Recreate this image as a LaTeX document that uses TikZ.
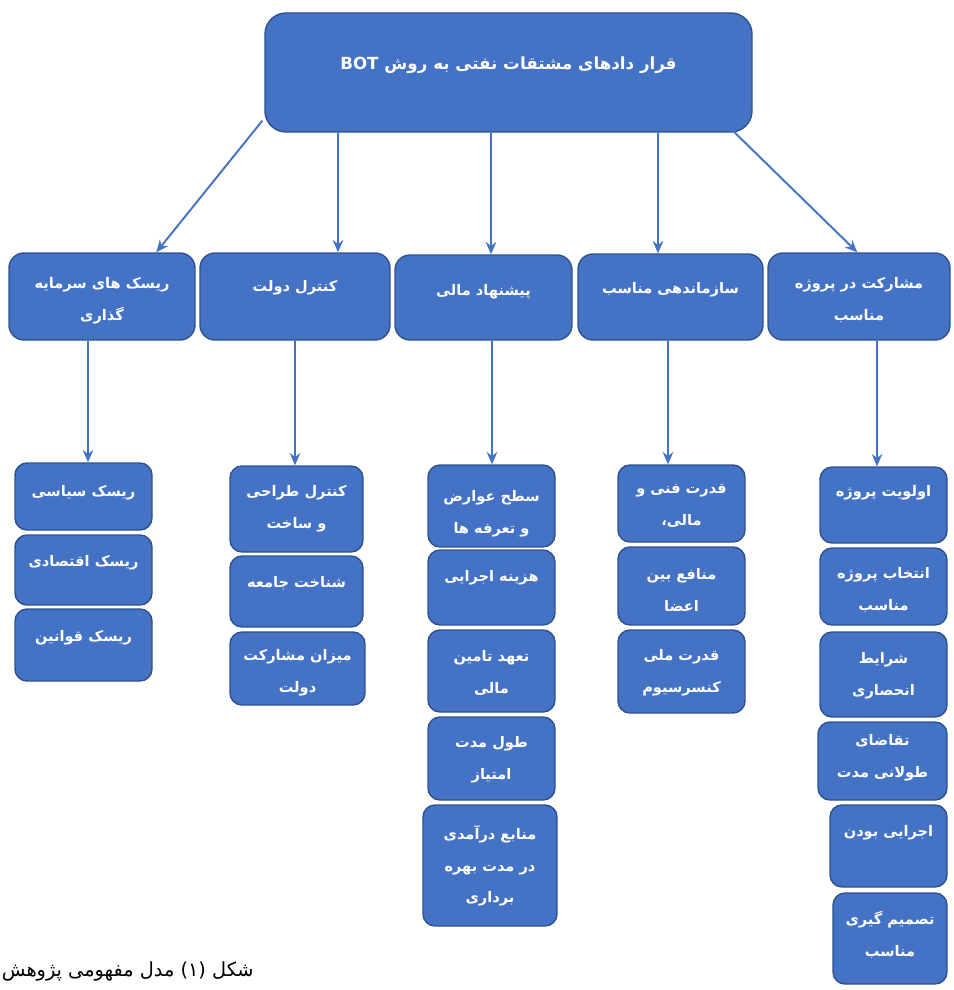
\documentclass[tikz,border=0pt]{standalone}
\usepackage{fontspec}
\TeXXeTstate=1
\newfontfamily\farsi[Script=Arabic]{DejaVu Sans}
\usetikzlibrary{arrows.meta,calc}
\definecolor{boxblue}{HTML}{4472C4}
\definecolor{boxedge}{HTML}{2F528F}
\definecolor{arrowblue}{HTML}{4472C4}
\newcommand\rl[1]{\beginR#1\endR}
% #1 style, #2 name, #3 x1, #4 y1, #5 x2, #6 y2, #7 text y, #8 text
\newcommand\bx[8]{%
  \node[boxshape,#1,minimum width={(#5-#3)*0.02cm},minimum height={(#6-#4)*0.02cm}] (#2) at ({(#3+#5)/2},{(#4+#6)/2}) {};
  \node[boxtext] (#2t) at ({(#3+#5)/2},#7) {#8};
}
\begin{document}
\begin{tikzpicture}[x=0.02cm,y=-0.02cm,
  boxshape/.style={draw=boxedge,fill=boxblue,line width=0.8pt,inner sep=0pt,rounded corners=0.24cm},
  catbox/.style={rounded corners=0.3cm},
  topbox/.style={rounded corners=0.42cm},
  boxtext/.style={text=white,font=\farsi\bfseries\fontsize{8.3}{18}\selectfont,align=center,inner sep=0pt},
  arr/.style={draw=arrowblue,line width=1.1pt,-{Stealth[length=7pt,width=6pt]}}]
\useasboundingbox (0,0) rectangle (953,990);

% top
\node[boxshape,topbox,minimum width={(752-265)*0.02cm},minimum height={(132-13)*0.02cm}] (top) at ({(265+752)/2},{(13+132)/2}) {};
\node[boxtext,font=\farsi\bfseries\fontsize{9.5}{18}\selectfont] (topt) at ({(265+752)/2},65) {\rl{قرار دادهای مشتقات نفتی به روش BOT}};

% categories
\bx{catbox}{c1}{9}{253}{195}{340}{301}{\rl{ریسک های سرمایه}\\\rl{گذاری}}
\bx{catbox}{c2}{200}{253}{390}{340}{288}{\rl{کنترل دولت}}
\bx{catbox}{c3}{395}{255}{572}{340}{292}{\rl{پیشنهاد مالی}}
\bx{catbox}{c4}{578}{254}{763}{340}{290}{\rl{سازماندهی مناسب}}
\bx{catbox}{c5}{768}{253}{950}{340}{300}{\rl{مشارکت در پروژه}\\\rl{مناسب}}

% column 1
\bx{}{s11}{15}{463}{152}{530}{493}{\rl{ریسک سیاسی}}
\bx{}{s12}{15}{535}{152}{605}{563}{\rl{ریسک اقتصادی}}
\bx{}{s13}{15}{609}{152}{681}{638}{\rl{ریسک قوانین}}

% column 2
\bx{}{s21}{230}{466}{363}{552}{509}{\rl{کنترل طراحی}\\\rl{و ساخت}}
\bx{}{s22}{230}{556}{363}{627}{583}{\rl{شناخت جامعه}}
\bx{}{s23}{230}{632}{365}{705}{673}{\rl{میزان مشارکت}\\\rl{دولت}}

% column 3
\bx{}{s31}{428}{465}{555}{547}{514}{\rl{سطح عوارض}\\\rl{و تعرفه ها}}
\bx{}{s32}{428}{550}{555}{625}{578}{\rl{هزینه اجرایی}}
\bx{}{s33}{428}{630}{555}{712}{673}{\rl{تعهد تامین}\\\rl{مالی}}
\bx{}{s34}{428}{717}{555}{800}{760}{\rl{طول مدت}\\\rl{امتیاز}}
\bx{}{s35}{423}{805}{557}{926}{866}{\rl{منابع درآمدی}\\\rl{در مدت بهره}\\\rl{برداری}}

% column 4
\bx{}{s41}{618}{465}{745}{542}{506}{\rl{قدرت فنی و}\\\rl{مالی،}}
\bx{}{s42}{618}{547}{745}{625}{590}{\rl{منافع بین}\\\rl{اعضا}}
\bx{}{s43}{618}{630}{745}{713}{673}{\rl{قدرت ملی}\\\rl{کنسرسیوم}}

% column 5
\bx{}{s51}{820}{467}{947}{543}{493}{\rl{اولویت پروژه}}
\bx{}{s52}{820}{548}{947}{625}{590}{\rl{انتخاب پروژه}\\\rl{مناسب}}
\bx{}{s53}{820}{632}{947}{717}{676}{\rl{شرایط}\\\rl{انحصاری}}
\bx{}{s54}{818}{722}{947}{800}{758}{\rl{تقاضای}\\\rl{طولانی مدت}}
\bx{}{s55}{830}{805}{947}{887}{833}{\rl{اجرایی بودن}}
\bx{}{s56}{833}{893}{947}{984}{935}{\rl{تصمیم گیری}\\\rl{مناسب}}

% caption
\node[anchor=east,inner sep=0pt,font=\farsi\fontsize{11}{14}\selectfont] (cap) at (254,972) {\rl{شکل (۱) مدل مفهومی پژوهش}};

% connector x positions
\coordinate (v2) at (338,0);
\coordinate (v3) at (491,0);
\coordinate (v4) at (658,0);
\coordinate (d1) at (88,0);
\coordinate (d2) at (295,0);
\coordinate (d3) at (492,0);
\coordinate (d4) at (668,0);
\coordinate (d5) at (877,0);

% arrows from top
\draw[arr] ($(top.south west)+(-2,-12)$) -- ($(c1.north west)+(148,0)$);
\draw[arr] (top.south -| v2) -- (c2.north -| v2);
\draw[arr] (top.south -| v3) -- (c3.north -| v3);
\draw[arr] (top.south -| v4) -- (c4.north -| v4);
\draw[arr] ($(top.south east)+(-25,-7)$) -- ($(c5.north west)+(90,0)$);

% arrows to sub-boxes
\draw[arr] (c1.south -| d1) -- (s11.north -| d1);
\draw[arr] (c2.south -| d2) -- (s21.north -| d2);
\draw[arr] (c3.south -| d3) -- (s31.north -| d3);
\draw[arr] (c4.south -| d4) -- (s41.north -| d4);
\draw[arr] (c5.south -| d5) -- (s51.north -| d5);
\end{tikzpicture}
\end{document}
